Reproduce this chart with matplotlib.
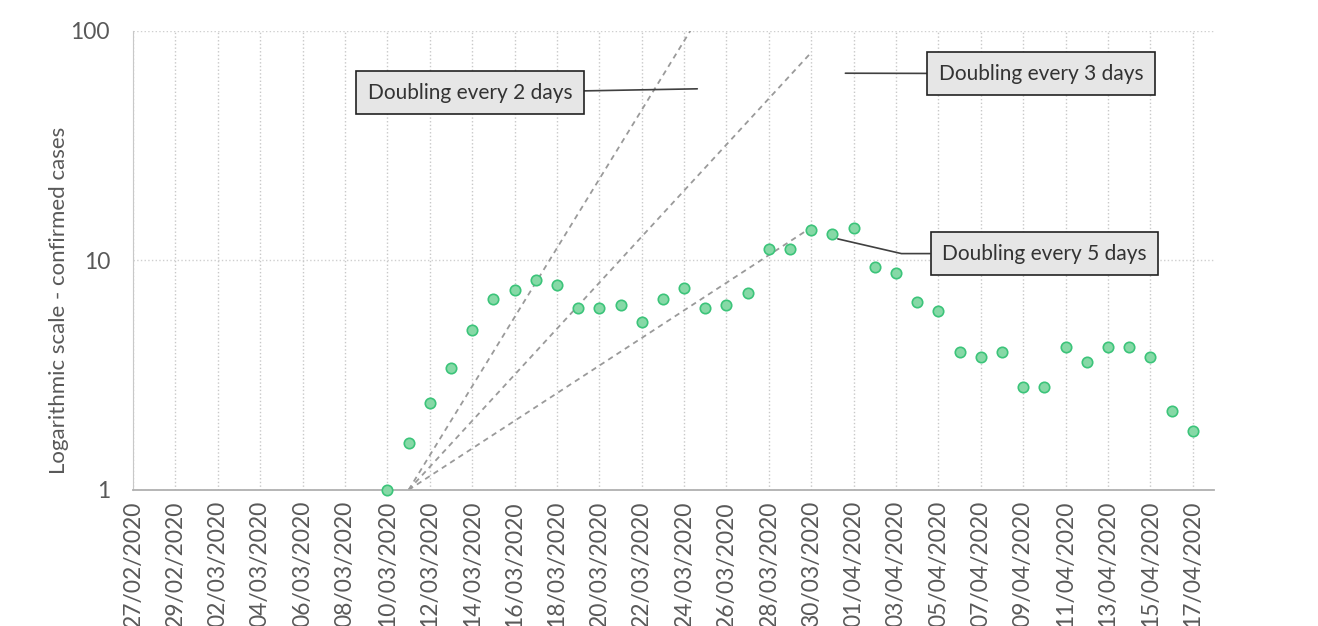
import numpy as np
import pandas as pd
import matplotlib
matplotlib.use("Agg")
import matplotlib.pyplot as plt
import matplotlib.dates as mdates

plt.rcParams['font.family'] = ['Lato', 'DejaVu Sans']

# observed values (confirmed cases, log scale)
dates = pd.date_range('2020-03-10', '2020-04-17', freq='D')
cases = [1.0, 1.6, 2.4, 3.4, 5.0, 6.8, 7.4, 8.2, 7.8, 6.2,
         6.2, 6.4, 5.4, 6.8, 7.6, 6.2, 6.4, 7.2, 11.2, 11.2,
         13.6, 13.0, 13.8, 9.4, 8.8, 6.6, 6.0, 4.0, 3.8, 4.0,
         2.8, 2.8, 4.2, 3.6, 4.2, 4.2, 3.8, 2.2, 1.8]

# reference doubling lines
dbl_start = pd.Timestamp('2020-03-11')
dbl_days = [2, 3, 5]
dbl_end = [pd.Timestamp('2020-03-25'), pd.Timestamp('2020-03-30'), pd.Timestamp('2020-03-30')]
dbl_labels = ['Doubling every 2 days', 'Doubling every 3 days', 'Doubling every 5 days']

tick_dates = pd.date_range('2020-02-27', '2020-04-17', freq='2D')
xmin, xmax = pd.Timestamp('2020-02-27'), pd.Timestamp('2020-04-18')

fig = plt.figure(figsize=(13.18, 6.26), dpi=100)
ax = fig.add_axes([0.1009, 0.2173, 0.8202, 0.7332])

for d, end in zip(dbl_days, dbl_end):
    n = (end - dbl_start).days
    xs = [dbl_start, end]
    ys = [1.0, 2 ** (n / d)]
    ax.plot(xs, ys, color='#9a9a9a', lw=1.3, ls=(0, (3, 2.5)), zorder=2)

ax.plot(dates, cases, ls='none', marker='o', ms=7.5, mfc='#86d9a6', mec='#3cc47a',
        mew=1.2, zorder=3, clip_on=False)

ax.set_yscale('log')
ax.set_ylim(1, 100)
ax.set_xlim(xmin, xmax)
ax.set_yticks([1, 10, 100])
ax.set_yticklabels(['1', '10', '100'])
ax.yaxis.set_minor_locator(matplotlib.ticker.NullLocator())
ax.set_xticks(tick_dates)
ax.xaxis.set_major_formatter(mdates.DateFormatter('%d/%m/%Y'))
ax.xaxis.set_minor_locator(matplotlib.ticker.NullLocator())
plt.setp(ax.get_xticklabels(), rotation=90)

ax.tick_params(axis='both', length=0, labelsize=16.5, colors='#595959')
ax.tick_params(axis='x', pad=8)
ax.tick_params(axis='y', pad=16.5)

ax.grid(axis='x', color='#c8c8c8', ls=':', lw=1)
ax.grid(axis='y', color='#cfcfcf', ls=':', lw=1)
ax.set_axisbelow(True)
for s in ['top', 'right']:
    ax.spines[s].set_visible(False)
ax.spines['left'].set_color('#c8c8c8')
ax.spines['bottom'].set_color('#b0b0b0')
ax.spines['bottom'].set_linewidth(1.3)

ax.set_ylabel('Logarithmic scale - confirmed cases', fontsize=16, color='#595959')
ax.yaxis.set_label_coords(-0.059, 0.414)

box = dict(boxstyle='square,pad=0.55', fc='#e6e6e6', ec='#222222', lw=1.2)
text_pos = [(0.312, 0.865), (0.840, 0.907), (0.843, 0.515)]
end_pos = [(0.522, 0.874), (0.659, 0.908), (0.652, 0.547)]
conns = ['arc3', 'arc3', 'angle,angleA=0,angleB=-13,rad=0']
for lab, tp, ep, cs in zip(dbl_labels, text_pos, end_pos, conns):
    line = dict(arrowstyle='-', color='#404040', lw=1.2, shrinkA=0, shrinkB=0,
                connectionstyle=cs)
    ax.annotate(lab, xy=ep, xycoords='axes fraction', xytext=tp, textcoords='axes fraction',
                ha='center', va='center', fontsize=15, color='#333333',
                bbox=box, arrowprops=line, zorder=5)

fig.savefig('out.png', dpi=100)
